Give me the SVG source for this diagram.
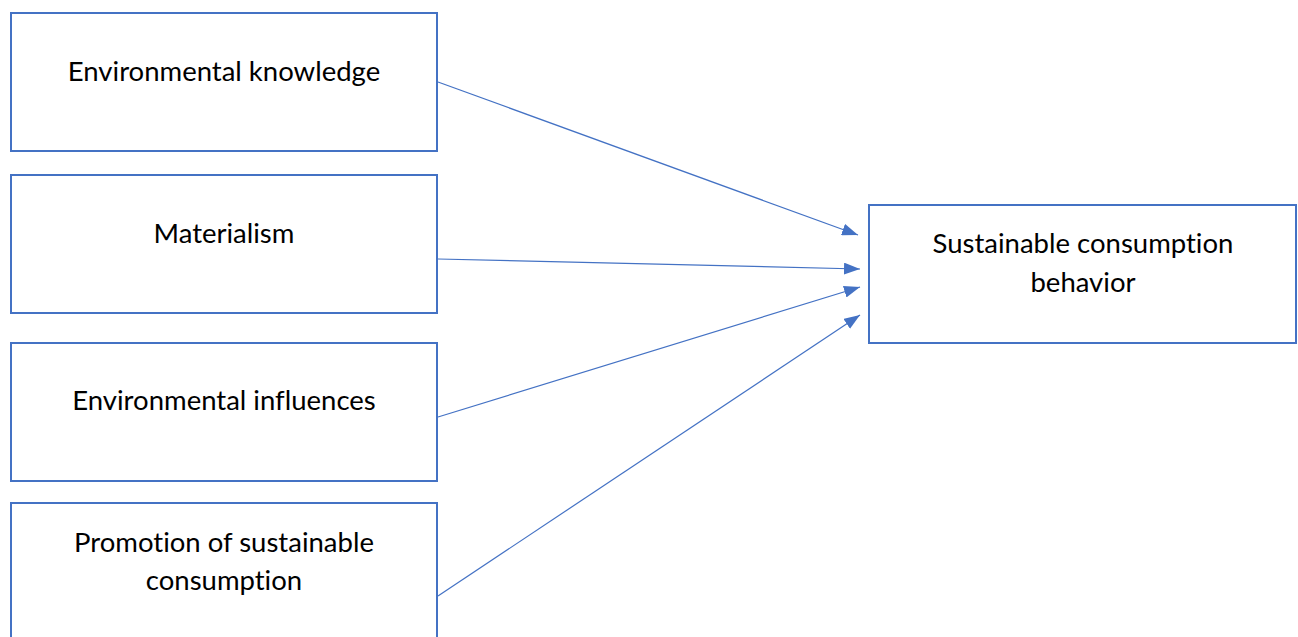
<svg xmlns="http://www.w3.org/2000/svg" width="1298" height="637" viewBox="0 0 1298 637">
<style>
.box{fill:#fff;stroke:#4472C4;stroke-width:2}
.lbl{font-family:Lato,"Open Sans","Liberation Sans",sans-serif;font-size:27.5px;fill:#000;text-anchor:middle;font-variant-ligatures:none}
.edge{stroke:#4472C4;stroke-width:1.2;fill:none;marker-end:url(#ah)}
</style>
<defs>
<marker id="ah" viewBox="0 0 16 12" refX="16" refY="6" markerWidth="16" markerHeight="12" markerUnits="userSpaceOnUse" orient="auto">
<path d="M0,0 L16,6 L0,12 z" fill="#4472C4"/>
</marker>
</defs>
<rect width="1298" height="637" fill="#fff"/>
<g id="edges">
<line class="edge" x1="438" y1="82" x2="858" y2="235"/>
<line class="edge" x1="438" y1="259" x2="860" y2="269"/>
<line class="edge" x1="438" y1="417" x2="860" y2="287"/>
<line class="edge" x1="438" y1="596" x2="860" y2="315"/>
</g>
<g id="n1"><rect class="box" x="11" y="13" width="426" height="138"/><text class="lbl" x="224" y="81">Environmental knowledge</text></g>
<g id="n2"><rect class="box" x="11" y="175" width="426" height="138"/><text class="lbl" x="224" y="243">Materialism</text></g>
<g id="n3"><rect class="box" x="11" y="343" width="426" height="138"/><text class="lbl" x="224" y="410">Environmental influences</text></g>
<g id="n4"><rect class="box" x="11" y="503" width="426" height="138"/><text class="lbl" x="224" y="552">Promotion of sustainable</text><text class="lbl" x="224" y="590">consumption</text></g>
<g id="n5"><rect class="box" x="869" y="205" width="427" height="138"/><text class="lbl" x="1083" y="253">Sustainable consumption</text><text class="lbl" x="1083" y="292">behavior</text></g>
</svg>
